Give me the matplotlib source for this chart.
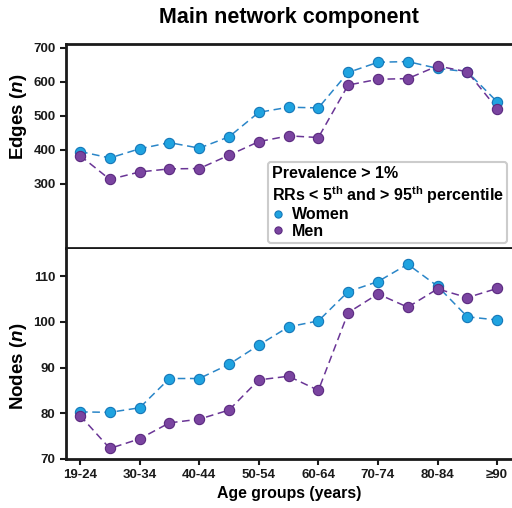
import matplotlib
matplotlib.use("Agg")
import matplotlib.pyplot as plt
import numpy as np

plt.rcParams["font.family"] = ["Liberation Sans", "DejaVu Sans"]
plt.rcParams["font.weight"] = "bold"
plt.rcParams["mathtext.fontset"] = "custom"
plt.rcParams["mathtext.rm"] = "Liberation Sans:bold"
plt.rcParams["mathtext.it"] = "Liberation Sans:italic:bold"
plt.rcParams["mathtext.default"] = "rm"

# ── data ────────────────────────────────────────────────────────────────
AGE_GROUPS = ["19-24", "25-29", "30-34", "35-39", "40-44", "45-49", "50-54",
              "55-59", "60-64", "65-69", "70-74", "75-79", "80-84", "85-89", "≥90"]

EDGES_WOMEN = [395, 376, 403, 421, 405, 438, 510, 525, 523, 627, 657, 659, 639, 629, 541]
EDGES_MEN   = [383, 313, 335, 344, 345, 384, 424, 441, 436, 590, 607, 609, 646, 629, 521]

NODES_WOMEN = [80.3, 80.2, 81.2, 87.6, 87.6, 90.7, 94.9, 98.9, 100.2, 106.6, 108.8, 112.6, 107.8, 101.1, 100.4]
NODES_MEN   = [79.5, 72.3, 74.4, 77.9, 78.7, 80.7, 87.3, 88.1, 85.0, 102.0, 106.1, 103.2, 107.2, 105.3, 107.3]

C_WOMEN, E_WOMEN, L_WOMEN = "#1fa3e0", "#1577b8", "#2a86c8"
C_MEN, E_MEN, L_MEN = "#7a44a0", "#5b2a80", "#6a3596"

x = np.arange(len(AGE_GROUPS))

fig = plt.figure(figsize=(5.12, 5.08), dpi=100)
ax1 = fig.add_axes([0.129, 0.512, 0.871, 0.401])
ax2 = fig.add_axes([0.129, 0.0965, 0.871, 0.414])


def draw(ax, women, men):
    ax.plot(x, women, "--", color=L_WOMEN, lw=1.1, dashes=(5, 3), zorder=2)
    ax.plot(x, men, "--", color=L_MEN, lw=1.1, dashes=(5, 3), zorder=2)
    ax.plot(x, women, "o", ms=7.4, mfc=C_WOMEN, mec=E_WOMEN, mew=0.8,
            label="Women", zorder=3)
    ax.plot(x, men, "o", ms=7.4, mfc=C_MEN, mec=E_MEN, mew=0.8,
            label="Men", zorder=3)
    ax.set_xlim(-0.47, 14.5)
    ax.spines["right"].set_visible(False)
    for s in ["left", "top", "bottom"]:
        ax.spines[s].set_linewidth(2.0)
        ax.spines[s].set_color("#1a1a1a")
    ax.tick_params(width=1.5, length=4, labelsize=9.5, colors="#1a1a1a")


draw(ax1, EDGES_WOMEN, EDGES_MEN)
ax1.set_ylim(112, 710)
ax1.set_yticks([300, 400, 500, 600, 700])
ax1.set_xticks([])
ax1.set_ylabel("Edges ($\\mathit{n}$)", fontsize=13.5, fontweight="bold")
ax1.yaxis.set_label_coords(-0.083, 0.642)
ax1.set_title("Main network component", fontsize=15.5, fontweight="bold", pad=15)

draw(ax2, NODES_WOMEN, NODES_MEN)
ax2.spines["top"].set_visible(False)
ax2.set_ylim(70, 116)
ax2.set_yticks([70, 80, 90, 100, 110])
ax2.set_xticks(x[::2])
ax2.set_xticklabels(AGE_GROUPS[::2])
ax2.set_ylabel("Nodes ($\\mathit{n}$)", fontsize=13.5, fontweight="bold")
ax2.yaxis.set_label_coords(-0.083, 0.443)
ax2.set_xlabel("Age groups (years)", fontsize=11.4, fontweight="bold", labelpad=3)

for ax in (ax1, ax2):
    for lab in ax.get_yticklabels() + ax.get_xticklabels():
        lab.set_fontweight("bold")

leg = ax1.legend(loc="lower right", bbox_to_anchor=(0.997, 0.008),
                 title="Prevalence > 1%\nRRs < 5$^{th}$ and > 95$^{th}$ percentile",
                 title_fontproperties={"weight": "bold", "size": 11.5},
                 prop={"weight": "bold", "size": 11.5}, alignment="left",
                 markerscale=0.7, handlelength=0.8, handletextpad=0.5,
                 labelspacing=0.1, borderpad=0.25, borderaxespad=0.2,
                 fancybox=True, edgecolor="#cccccc", framealpha=1)
leg.get_frame().set_linewidth(1.5)

fig.savefig("out.png", dpi=100)
